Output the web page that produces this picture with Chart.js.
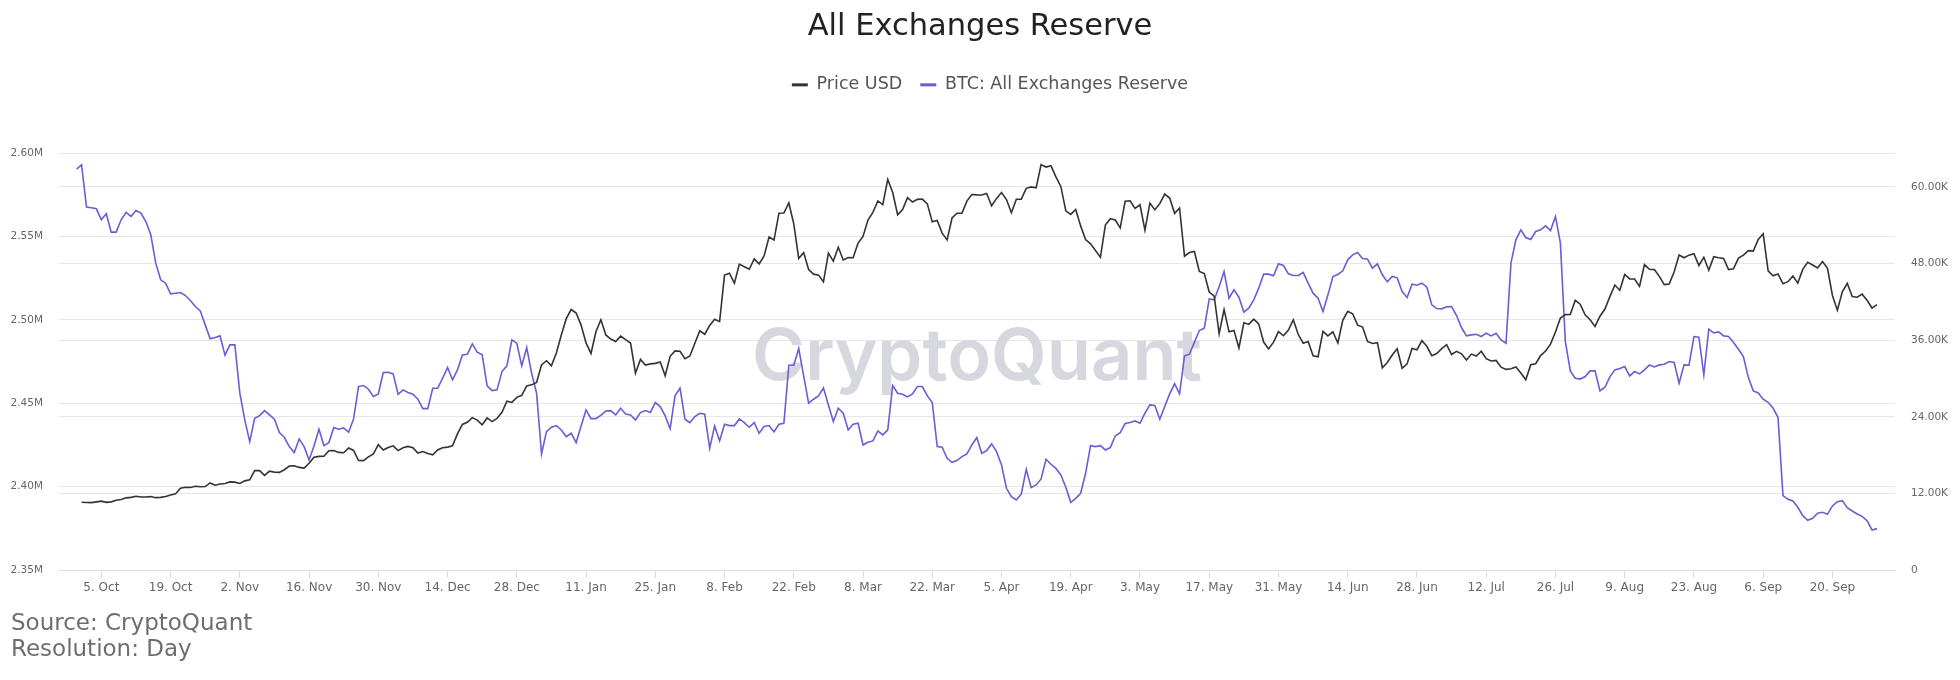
<!DOCTYPE html>
<html>
<head>
<meta charset="utf-8">
<title>All Exchanges Reserve</title>
<script src="https://cdn.jsdelivr.net/npm/chart.js@4.4.1/dist/chart.umd.min.js"></script>
<style>
  html, body { margin: 0; padding: 0; background: #fff; }
  #wrap { position: relative; width: 1960px; height: 680px; }
  #source {
    position: absolute; left: 11px; top: 609px;
    font: 23px/26px "DejaVu Sans", sans-serif; color: #6e6e6e;
  }
</style>
</head>
<body>
<div id="wrap">
  <canvas id="reserveChart"></canvas>
  <div id="source">Source: CryptoQuant<br>Resolution: Day</div>
</div>
<script>
// day 0 = 30 Sep 2020, one value per day up to 29 Sep 2021
const priceUsd = [ // thousands of USD
  null,
  // Oct
  10.62, 10.57, 10.55, 10.67, 10.79, 10.60, 10.67, 10.92, 11.05, 11.30, 11.38, 11.55, 11.43, 11.43, 11.50, 11.33,
  11.37, 11.51, 11.75, 11.92, 12.82, 12.97, 12.93, 13.11, 13.03, 13.07, 13.64, 13.28, 13.46, 13.56, 13.80,
  // Nov
  13.76, 13.55, 13.96, 14.13, 15.58, 15.57, 14.83, 15.48, 15.33, 15.29, 15.70, 16.28, 16.32, 16.07, 15.96,
  16.72, 17.65, 17.80, 17.82, 18.68, 18.71, 18.42, 18.37, 19.11, 18.73, 17.15, 17.14, 17.72, 18.18, 19.63,
  // Dec
  18.80, 19.20, 19.45, 18.70, 19.15, 19.36, 19.17, 18.32, 18.55, 18.26, 18.04, 18.80, 19.14, 19.25, 19.44, 21.31,
  22.80, 23.14, 23.87, 23.48, 22.75, 23.82, 23.24, 23.73, 24.71, 26.44, 26.25, 27.04, 27.36, 28.84, 29.00,
  // Jan
  29.37, 32.13, 32.78, 31.97, 33.99, 36.82, 39.37, 40.80, 40.25, 38.36, 35.57, 33.92, 37.32, 39.19, 36.82, 36.18,
  35.79, 36.63, 36.07, 35.55, 30.83, 32.99, 32.10, 32.29, 32.37, 32.57, 30.43, 33.47, 34.32, 34.27, 33.11,
  // Feb
  33.52, 35.51, 37.47, 36.93, 38.30, 39.26, 38.90, 46.20, 46.48, 44.92, 47.91, 47.50, 47.11, 48.72,
  47.94, 49.20, 52.15, 51.68, 55.89, 55.92, 57.49, 54.21, 48.82, 49.71, 47.06, 46.34, 46.19, 45.14,
  // Mar
  49.63, 48.38, 50.54, 48.56, 48.93, 48.91, 51.21, 52.25, 54.82, 56.01, 57.81, 57.23, 61.19, 59.12, 55.64, 56.47,
  58.33, 57.64, 58.05, 58.10, 57.35, 54.53, 54.74, 52.77, 51.70, 55.14, 55.88, 55.88, 57.78, 58.81, 58.75,
  // Apr
  58.73, 58.97, 57.06, 58.21, 59.12, 58.02, 55.95, 58.08, 58.09, 59.78, 60.00, 59.86, 63.50, 63.11, 63.31,
  61.57, 60.08, 56.25, 55.70, 56.47, 53.90, 51.76, 51.09, 50.05, 49.00, 54.02, 55.03, 54.82, 53.58, 57.75,
  // May
  57.83, 56.63, 57.21, 53.24, 57.47, 56.43, 57.38, 58.89, 58.26, 55.86, 56.70, 49.15, 49.72, 49.88, 46.76, 46.43,
  43.54, 42.91, 37.00, 40.78, 37.30, 37.53, 34.77, 38.71, 38.47, 39.29, 38.56, 35.70, 34.62, 35.68, 37.34,
  // Jun
  36.69, 37.57, 39.19, 36.88, 35.52, 35.80, 33.55, 33.40, 37.39, 36.68, 37.31, 35.55, 39.10, 40.52, 40.14,
  38.35, 38.05, 35.79, 35.48, 35.60, 31.68, 32.50, 33.68, 34.66, 31.59, 32.28, 34.70, 34.50, 35.91, 35.04,
  // Jul
  33.57, 33.90, 34.66, 35.29, 33.75, 34.24, 33.86, 32.88, 33.82, 33.52, 34.26, 33.09, 32.73, 32.82, 31.78, 31.42,
  31.53, 31.80, 30.84, 29.79, 32.14, 32.31, 33.58, 34.29, 35.38, 37.28, 39.46, 40.00, 40.03, 42.24, 41.63,
  // Aug
  39.97, 39.20, 38.15, 39.75, 40.87, 42.82, 44.63, 43.82, 46.29, 45.60, 45.59, 44.43, 47.83, 47.11, 47.05, 45.99,
  44.70, 44.80, 46.72, 49.34, 48.90, 49.32, 49.55, 47.71, 48.99, 46.94, 49.06, 48.90, 48.81, 47.05, 47.17,
  // Sep
  48.85, 49.33, 50.03, 49.94, 51.77, 52.66, 46.86, 46.08, 46.37, 44.85, 45.16, 46.03, 44.96, 47.09, 48.18,
  47.78, 47.30, 48.32, 47.26, 43.00, 40.70, 43.57, 44.90, 42.84, 42.72, 43.21, 42.24, 41.03, 41.56
];

const reserveBtc = [ // millions of BTC
  2.5904,
  // Oct
  2.5930, 2.5676, 2.5672, 2.5666, 2.5600, 2.5636, 2.5526, 2.5526, 2.5600, 2.5644, 2.5620, 2.5656, 2.5640, 2.5590, 2.5510, 2.5340,
  2.5240, 2.5220, 2.5156, 2.5160, 2.5164, 2.5146, 2.5116, 2.5080, 2.5054, 2.4970, 2.4886, 2.4894, 2.4904, 2.4788, 2.4850,
  // Nov
  2.4850, 2.4560, 2.4400, 2.4270, 2.4410, 2.4426, 2.4456, 2.4430, 2.4404, 2.4324, 2.4296, 2.4240, 2.4204, 2.4286, 2.4240,
  2.4160, 2.4244, 2.4344, 2.4246, 2.4264, 2.4354, 2.4344, 2.4352, 2.4326, 2.4406, 2.4600, 2.4606, 2.4584, 2.4540, 2.4556,
  // Dec
  2.4684, 2.4686, 2.4676, 2.4554, 2.4580, 2.4564, 2.4554, 2.4524, 2.4468, 2.4468, 2.4590, 2.4590, 2.4650, 2.4714, 2.4640, 2.4700,
  2.4790, 2.4794, 2.4856, 2.4806, 2.4790, 2.4604, 2.4576, 2.4580, 2.4690, 2.4724, 2.4880, 2.4860, 2.4724, 2.4834, 2.4680,
  // Jan
  2.4560, 2.4196, 2.4330, 2.4356, 2.4366, 2.4340, 2.4300, 2.4320, 2.4264, 2.4364, 2.4460, 2.4408, 2.4408, 2.4428, 2.4454, 2.4456,
  2.4430, 2.4470, 2.4436, 2.4430, 2.4400, 2.4444, 2.4456, 2.4444, 2.4504, 2.4480, 2.4424, 2.4348, 2.4546, 2.4590, 2.4404,
  // Feb
  2.4384, 2.4420, 2.4440, 2.4434, 2.4230, 2.4364, 2.4274, 2.4374, 2.4366, 2.4366, 2.4406, 2.4384, 2.4356, 2.4384,
  2.4320, 2.4360, 2.4366, 2.4328, 2.4374, 2.4380, 2.4728, 2.4728, 2.4828, 2.4664, 2.4500, 2.4524, 2.4544, 2.4592,
  // Mar
  2.4490, 2.4390, 2.4470, 2.4440, 2.4340, 2.4374, 2.4380, 2.4250, 2.4266, 2.4274, 2.4334, 2.4310, 2.4340, 2.4606, 2.4560, 2.4554,
  2.4538, 2.4556, 2.4600, 2.4600, 2.4544, 2.4504, 2.4240, 2.4236, 2.4170, 2.4146, 2.4156, 2.4180, 2.4196, 2.4250, 2.4294,
  // Apr
  2.4200, 2.4216, 2.4256, 2.4210, 2.4130, 2.3990, 2.3940, 2.3920, 2.3956, 2.4104, 2.3994, 2.4010, 2.4046, 2.4164, 2.4134,
  2.4110, 2.4070, 2.3996, 2.3906, 2.3930, 2.3960, 2.4080, 2.4246, 2.4240, 2.4246, 2.4220, 2.4234, 2.4304, 2.4324, 2.4378,
  // May
  2.4384, 2.4394, 2.4380, 2.4440, 2.4490, 2.4486, 2.4404, 2.4480, 2.4556, 2.4616, 2.4556, 2.4784, 2.4794, 2.4866, 2.4936, 2.4950,
  2.5126, 2.5120, 2.5200, 2.5290, 2.5130, 2.5180, 2.5136, 2.5046, 2.5070, 2.5120, 2.5190, 2.5274, 2.5274, 2.5264, 2.5336,
  // Jun
  2.5326, 2.5276, 2.5266, 2.5266, 2.5284, 2.5220, 2.5160, 2.5130, 2.5050, 2.5150, 2.5260, 2.5272, 2.5294, 2.5360, 2.5390,
  2.5404, 2.5368, 2.5364, 2.5310, 2.5336, 2.5270, 2.5228, 2.5260, 2.5252, 2.5170, 2.5134, 2.5214, 2.5208, 2.5220, 2.5196,
  // Jul
  2.5090, 2.5068, 2.5066, 2.5078, 2.5080, 2.5026, 2.4954, 2.4904, 2.4910, 2.4914, 2.4900, 2.4920, 2.4904, 2.4920, 2.4880, 2.4860,
  2.5340, 2.5480, 2.5540, 2.5494, 2.5482, 2.5530, 2.5540, 2.5564, 2.5536, 2.5620, 2.5460, 2.4870, 2.4694, 2.4650, 2.4645,
  // Aug
  2.4660, 2.4694, 2.4694, 2.4574, 2.4596, 2.4658, 2.4700, 2.4708, 2.4720, 2.4664, 2.4690, 2.4676, 2.4700, 2.4730, 2.4718, 2.4730,
  2.4734, 2.4750, 2.4744, 2.4620, 2.4730, 2.4728, 2.4900, 2.4896, 2.4670, 2.4944, 2.4922, 2.4928, 2.4904, 2.4900, 2.4864,
  // Sep
  2.4824, 2.4780, 2.4654, 2.4574, 2.4562, 2.4524, 2.4506, 2.4470, 2.4414, 2.3946, 2.3924, 2.3914, 2.3876, 2.3826, 2.3798,
  2.3810, 2.3840, 2.3846, 2.3834, 2.3884, 2.3910, 2.3916, 2.3874, 2.3854, 2.3836, 2.3822, 2.3796, 2.3740, 2.3748
];

const xTickDays = [5, 19, 33, 47, 61, 75, 89, 103, 117, 131, 145, 159, 173,
  187, 201, 215, 229, 243, 257, 271, 285, 299, 313, 327, 341, 355];
const xTickLabels = ['5. Oct', '19. Oct', '2. Nov', '16. Nov', '30. Nov', '14. Dec', '28. Dec',
  '11. Jan', '25. Jan', '8. Feb', '22. Feb', '8. Mar', '22. Mar', '5. Apr', '19. Apr', '3. May',
  '17. May', '31. May', '14. Jun', '28. Jun', '12. Jul', '26. Jul', '9. Aug', '23. Aug', '6. Sep', '20. Sep'];
const reserveTicks = [2.35, 2.40, 2.45, 2.50, 2.55, 2.60];
const priceTicks = [0, 12, 24, 36, 48, 60];

Chart.defaults.font.family = "'DejaVu Sans', sans-serif";

// gray brand text behind the lines
const watermark = {
  id: 'watermark',
  beforeDatasetsDraw(chart) {
    const { ctx, chartArea } = chart;
    ctx.save();
    ctx.font = '600 80px Inter';
    const size = 80 * 450 / ctx.measureText('CryptoQuant').width;
    ctx.font = `600 ${size}px Inter`;
    ctx.fillStyle = '#d7d7df';
    ctx.textAlign = 'center';
    ctx.textBaseline = 'alphabetic';
    ctx.fillText('CryptoQuant', (chartArea.left + chartArea.right) / 2, chartArea.top + 227);
    ctx.restore();
  }
};

// extra room between legend and plot, legend nudged a little right
const legendGap = {
  id: 'legendGap',
  beforeInit(chart) {
    const fit = chart.legend.fit;
    chart.legend.fit = function () {
      fit.call(this);
      this.height += 49.5;
    };
  },
  afterLayout(chart) {
    chart.legend.left += 10;
    chart.legend.right += 10;
  }
};

const toPoints = (arr) => arr.map((v, i) => ({ x: i, y: v }));

new Chart(document.getElementById('reserveChart'), {
  type: 'line',
  data: {
    datasets: [{
      label: 'Price USD',
      data: toPoints(priceUsd),
      yAxisID: 'yPrice',
      borderColor: '#333333',
      borderWidth: 1.6,
      pointRadius: 0,
      tension: 0
    }, {
      label: 'BTC: All Exchanges Reserve',
      data: toPoints(reserveBtc),
      yAxisID: 'yReserve',
      borderColor: '#6b5dd3',
      borderWidth: 1.6,
      pointRadius: 0,
      tension: 0
    }]
  },
  options: {
    responsive: true,
    maintainAspectRatio: false,
    animation: false,
    layout: { padding: { left: 0, right: 0, top: 9, bottom: 0 } },
    plugins: {
      title: {
        display: true,
        text: 'All Exchanges Reserve',
        color: '#222222',
        font: { size: 30.5, weight: 'normal' },
        padding: { top: 0, bottom: 12.5 }
      },
      legend: {
        display: true,
        labels: {
          usePointStyle: true,
          pointStyle: 'line',
          pointStyleWidth: 16,
          padding: 18,
          color: '#555555',
          font: { size: 17.5 },
          generateLabels(chart) {
            return Chart.defaults.plugins.legend.labels.generateLabels(chart)
              .map(l => ({ ...l, lineWidth: 3 }));
          }
        }
      },
      tooltip: { enabled: false }
    },
    scales: {
      x: {
        type: 'linear',
        min: -3.56,
        max: 367.65,
        afterBuildTicks: (axis) => { axis.ticks = xTickDays.map(v => ({ value: v })); },
        afterFit: (axis) => { axis.height = 110; },
        ticks: {
          autoSkip: false,
          maxRotation: 0,
          padding: 3,
          color: '#666666',
          font: { size: 12 },
          callback: (value) => xTickLabels[xTickDays.indexOf(value)]
        },
        grid: { drawOnChartArea: false, drawTicks: true, tickLength: 8, color: '#dedede' },
        border: { display: true, color: '#dedede' }
      },
      yReserve: {
        type: 'linear',
        position: 'left',
        min: 2.35,
        max: 2.60,
        afterBuildTicks: (axis) => { axis.ticks = reserveTicks.map(v => ({ value: v })); },
        afterFit: (axis) => { axis.width = 59; },
        ticks: {
          padding: 16,
          color: '#666666',
          font: { size: 10.5 },
          callback: (value) => value.toFixed(2) + 'M'
        },
        grid: { color: '#e6e6e6', drawTicks: false },
        border: { display: false }
      },
      yPrice: {
        type: 'linear',
        position: 'right',
        min: 0,
        max: 65.3,
        afterBuildTicks: (axis) => { axis.ticks = priceTicks.map(v => ({ value: v })); },
        afterFit: (axis) => { axis.width = 65; },
        ticks: {
          padding: 16,
          color: '#666666',
          font: { size: 10.5 },
          callback: (value) => value === 0 ? '0' : value.toFixed(2) + 'K'
        },
        grid: { color: '#e6e6e6', drawTicks: false },
        border: { display: false }
      }
    }
  },
  plugins: [watermark, legendGap]
});
</script>
</body>
</html>
